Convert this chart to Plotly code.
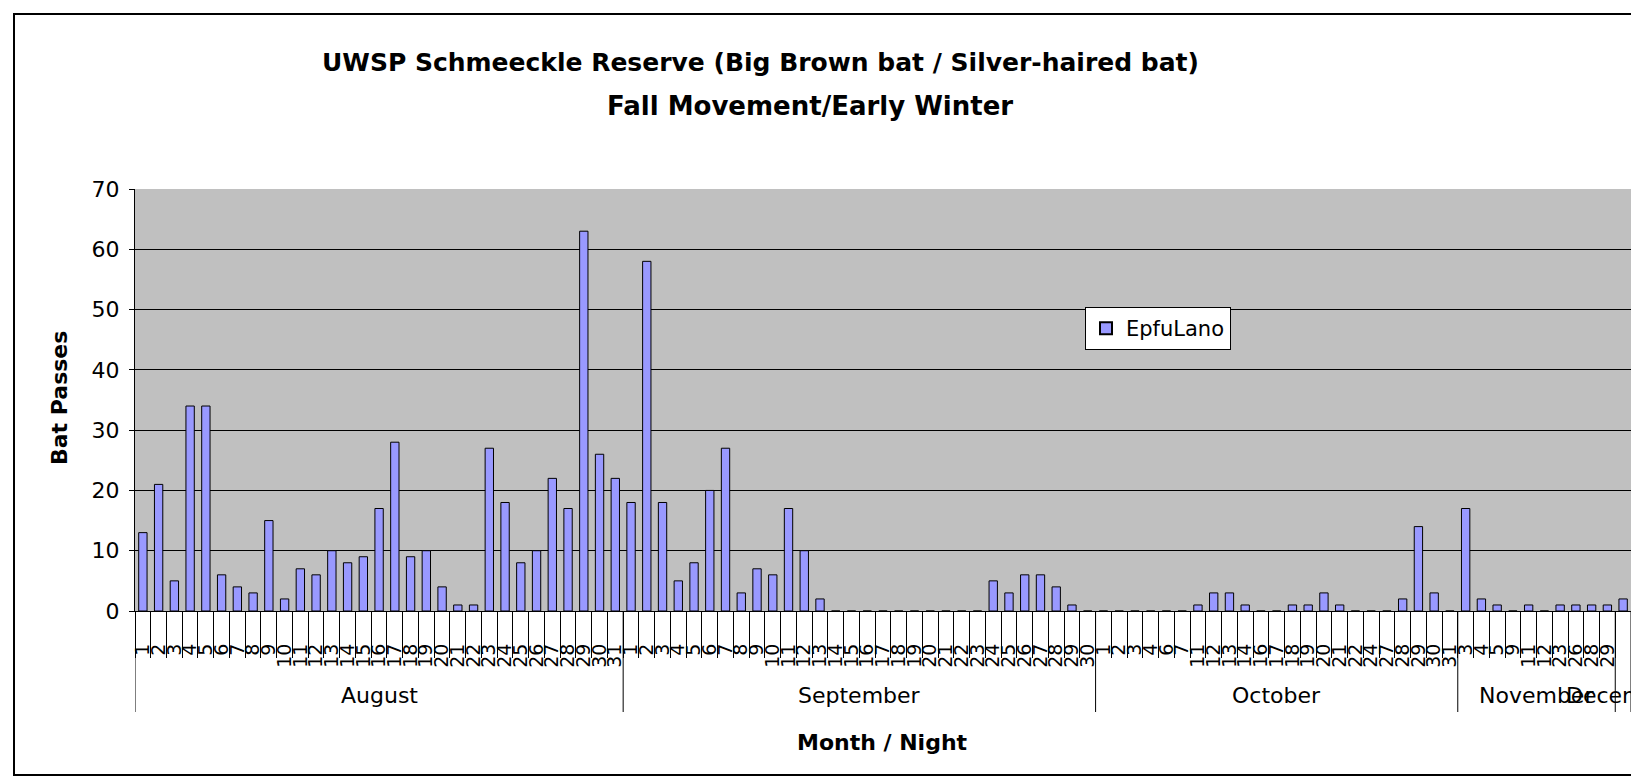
import plotly.graph_objects as go

# ---------------- data ----------------
months = ["August", "September", "October", "November", "December"]

aug_nights = [1, 2, 3, 4, 5, 6, 7, 8, 9, 10, 11, 12, 13, 14, 15, 16, 17, 18, 19, 20,
              21, 22, 23, 24, 25, 26, 27, 28, 29, 30, 31]
aug_passes = [13, 21, 5, 34, 34, 6, 4, 3, 15, 2, 7, 6, 10, 8, 9, 17, 28, 9, 10, 4,
              1, 1, 27, 18, 8, 10, 22, 17, 63, 26, 22]

sep_nights = [1, 2, 3, 4, 5, 6, 7, 8, 9, 10, 11, 12, 13, 14, 15, 16, 17, 18, 19, 20,
              21, 22, 23, 24, 25, 26, 27, 28, 29, 30]
sep_passes = [18, 58, 18, 5, 8, 20, 27, 3, 7, 6, 17, 10, 2, 0, 0, 0, 0, 0, 0, 0,
              0, 0, 0, 5, 3, 6, 6, 4, 1, 0]

oct_nights = [1, 2, 3, 4, 6, 7, 11, 12, 13, 14, 16, 17, 18, 19, 20, 21, 22, 24, 27,
              28, 29, 30, 31]
oct_passes = [0, 0, 0, 0, 0, 0, 1, 3, 3, 1, 0, 0, 1, 1, 3, 1, 0, 0, 0,
              2, 14, 3, 0]

nov_nights = [3, 4, 5, 9, 11, 12, 23, 26, 28, 29]
nov_passes = [17, 2, 1, 0, 1, 0, 1, 1, 1, 1]

dec_nights = [13]
dec_passes = [2]

series_name = "EpfuLano"
title_line1 = "UWSP Schmeeckle Reserve (Big Brown bat / Silver-haired bat)"
title_line2 = "Fall Movement/Early Winter"
x_title = "Month / Night"
y_title = "Bat Passes"

# ---------------- layout constants (pixels) ----------------
W, H = 1631, 778
L, R, T, B = 135, 0, 189, 167
PW, PH = W - L - R, H - T - B
FONT = "DejaVu Sans, Liberation Sans, Arial, sans-serif"


def px_to_xpaper(px):
    return (px - L) / PW


def px_to_ypaper(py):
    return (H - B - py) / PH


groups = [
    (months[0], aug_nights, aug_passes),
    (months[1], sep_nights, sep_passes),
    (months[2], oct_nights, oct_passes),
    (months[3], nov_nights, nov_passes),
    (months[4], dec_nights, dec_passes),
]

x_idx, tick_text, values = [], [], []
bounds = [-0.5]
mids = []
i = 0
for m, nights, passes in groups:
    start = i
    for d, v in zip(nights, passes):
        x_idx.append(i)
        tick_text.append(str(d))
        values.append(v)
        i += 1
    bounds.append(i - 0.5)
    mids.append((start + i - 1) / 2)
N = i
cat_bounds = [k - 0.5 for k in range(N + 1)]

fig = go.Figure()
fig.add_trace(go.Bar(
    x=x_idx, y=values, name=series_name,
    marker=dict(color="#9999FF", line=dict(color="black", width=1)),
    showlegend=True,
))

shapes = []
# month dividers
for bx in bounds:
    shapes.append(dict(type="line", xref="x", yref="paper",
                       x0=bx, x1=bx, y0=0, y1=px_to_ypaper(712),
                       line=dict(color="black", width=1)))
# outer chart border
shapes.append(dict(type="rect", xref="paper", yref="paper",
                   x0=px_to_xpaper(14), x1=px_to_xpaper(W + 20),
                   y0=px_to_ypaper(775), y1=px_to_ypaper(14),
                   line=dict(color="black", width=2), fillcolor="rgba(0,0,0,0)",
                   layer="above"))

annotations = []
for m, mx in zip(months, mids):
    annotations.append(dict(text=m, xref="x", yref="paper", x=mx, y=px_to_ypaper(695),
                            showarrow=False, xanchor="center", yanchor="middle",
                            font=dict(family=FONT, size=22, color="black")))
annotations.append(dict(text="<b>" + x_title + "</b>", xref="paper", yref="paper",
                        x=px_to_xpaper(882), y=px_to_ypaper(742), showarrow=False,
                        xanchor="center", yanchor="middle",
                        font=dict(family=FONT, size=22, color="black")))
annotations.append(dict(text="<b>" + y_title + "</b>", xref="paper", yref="paper",
                        x=px_to_xpaper(59), y=px_to_ypaper(398), showarrow=False,
                        textangle=-90, xanchor="center", yanchor="middle",
                        font=dict(family=FONT, size=22, color="black")))
annotations.append(dict(text="<b>" + title_line1 + "</b>", xref="paper", yref="paper",
                        x=px_to_xpaper(760), y=px_to_ypaper(63), showarrow=False,
                        xanchor="center", yanchor="middle",
                        font=dict(family=FONT, size=25, color="black")))
annotations.append(dict(text="<b>" + title_line2 + "</b>", xref="paper", yref="paper",
                        x=px_to_xpaper(810), y=px_to_ypaper(106), showarrow=False,
                        xanchor="center", yanchor="middle",
                        font=dict(family=FONT, size=26, color="black")))

fig.update_layout(
    width=W, height=H,
    margin=dict(l=L, r=R, t=T, b=B, pad=0),
    paper_bgcolor="white",
    plot_bgcolor="#C0C0C0",
    bargap=0.47,
    shapes=shapes,
    annotations=annotations,
    font=dict(family=FONT, color="black"),
    legend=dict(x=px_to_xpaper(1085), y=px_to_ypaper(307), xanchor="left", yanchor="top",
                bgcolor="white", bordercolor="black", borderwidth=1,
                font=dict(family=FONT, size=21, color="black"),
                itemwidth=30, itemsizing="constant"),
    xaxis=dict(
        range=[-0.5, N - 0.5], automargin=False,
        tickmode="array", tickvals=x_idx, ticktext=tick_text,
        tickangle=-90, ticks="", ticklabelstandoff=24,
        tickfont=dict(family=FONT, size=19, color="black"),
        showgrid=False, zeroline=False,
        showline=True, linecolor="black", linewidth=1,
        minor=dict(tickmode="array", tickvals=cat_bounds,
                   ticks="outside", ticklen=46, tickcolor="black", tickwidth=1,
                   showgrid=False),
        fixedrange=True,
    ),
    yaxis=dict(
        range=[0, 70], dtick=10, tick0=0, automargin=False,
        ticks="outside", ticklen=5, tickcolor="black", ticklabelstandoff=5,
        tickfont=dict(family=FONT, size=22, color="black"),
        showgrid=True, gridcolor="black", gridwidth=1,
        zeroline=False, showline=True, linecolor="black", linewidth=1,
        fixedrange=True,
    ),
)

fig.write_html(
    "out.html",
    config={"displayModeBar": False},
    post_script="document.body.style.margin='0';document.body.style.overflow='hidden';",
)
